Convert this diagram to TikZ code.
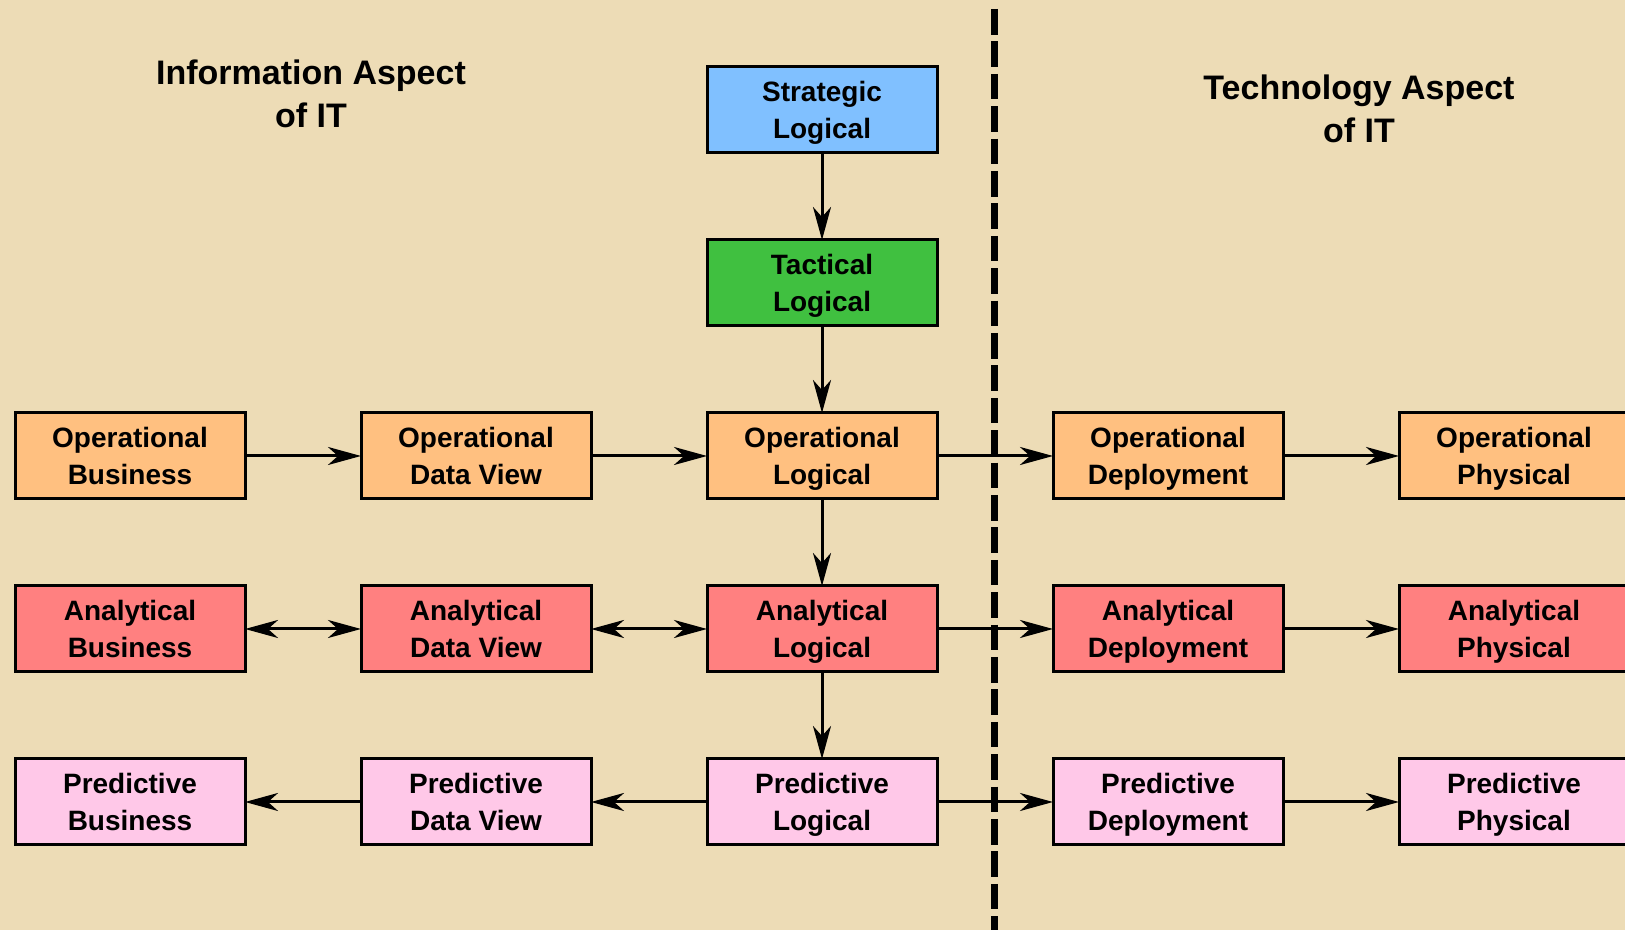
\documentclass[tikz,border=0pt]{standalone}
\usepackage{fontspec}
\setmainfont{Liberation Sans}
\usetikzlibrary{positioning,arrows.meta}

\definecolor{parch}{RGB}{237,220,182}
\definecolor{stratblue}{RGB}{128,192,255}
\definecolor{tactgreen}{RGB}{64,192,64}
\definecolor{operorange}{RGB}{255,192,128}
\definecolor{analred}{RGB}{255,128,128}
\definecolor{predpink}{RGB}{255,200,232}

\begin{document}
\begin{tikzpicture}[x=0.5pt,y=0.5pt,every node/.style={outer sep=0pt},
 node distance=43.5pt and 58pt,
 box/.style={draw,line width=1.5pt,minimum width=115pt,minimum height=43pt,
 inner sep=0pt,align=center,text depth=0pt,
 font=\bfseries\fontsize{14}{18.5}\selectfont},
 strat/.style={box,fill=stratblue},
 tact/.style={box,fill=tactgreen},
 oper/.style={box,fill=operorange},
 anal/.style={box,fill=analred},
 pred/.style={box,fill=predpink},
 aspect/.style={align=center,font=\bfseries\fontsize{17}{21.75}\selectfont},
 link/.style={line width=1.5pt,-{Stealth[length=16.5pt,width=9pt,inset=5pt]}},
 twoway/.style={line width=1.5pt,{Stealth[length=16.5pt,width=9pt,inset=5pt]}-{Stealth[length=16.5pt,width=9pt,inset=5pt]}}]

\clip (0,0) rectangle (1625,930);
\fill[parch] (0,0) rectangle (1625,930);

% logical column
\node[oper] (ol) at (822,474) {Operational\\Logical};
\node[tact,above=of ol] (tl) {Tactical\\Logical};
\node[strat,above=of tl] (sl) {Strategic\\Logical};
\node[anal,below=of ol] (al) {Analytical\\Logical};
\node[pred,below=of al] (pl) {Predictive\\Logical};

% information side
\node[oper,left=of ol] (odv) {Operational\\Data View};
\node[oper,left=of odv] (ob) {Operational\\Business};
\node[anal,left=of al] (adv) {Analytical\\Data View};
\node[anal,left=of adv] (ab) {Analytical\\Business};
\node[pred,left=of pl] (pdv) {Predictive\\Data View};
\node[pred,left=of pdv] (pb) {Predictive\\Business};

% technology side
\node[oper,right=of ol] (od) {Operational\\Deployment};
\node[oper,right=of od] (op) {Operational\\Physical};
\node[anal,right=of al] (ad) {Analytical\\Deployment};
\node[anal,right=of ad] (ap) {Analytical\\Physical};
\node[pred,right=of pl] (pd) {Predictive\\Deployment};
\node[pred,right=of pd] (pp) {Predictive\\Physical};

\node[aspect] (info) at (311,836) {Information Aspect\\of IT};
\node[aspect] (tech) at (1359,821) {Technology Aspect\\of IT};

\draw[link] (sl) -- (tl);
\draw[link] (tl) -- (ol);
\draw[link] (ol) -- (al);
\draw[link] (al) -- (pl);

\draw[link] (ob) -- (odv);
\draw[link] (odv) -- (ol);
\draw[twoway] (ab) -- (adv);
\draw[twoway] (adv) -- (al);
\draw[link] (pl) -- (pdv);
\draw[link] (pdv) -- (pb);

\draw[link] (ol) -- (od);
\draw[link] (od) -- (op);
\draw[link] (al) -- (ad);
\draw[link] (ad) -- (ap);
\draw[link] (pl) -- (pd);
\draw[link] (pd) -- (pp);

\coordinate (cut top) at (994,921);
\coordinate (cut bot) at (994,0);
\draw[line width=3.5pt,dash pattern=on 12.8pt off 3.4pt] (cut top) -- (cut bot);

\end{tikzpicture}
\end{document}
